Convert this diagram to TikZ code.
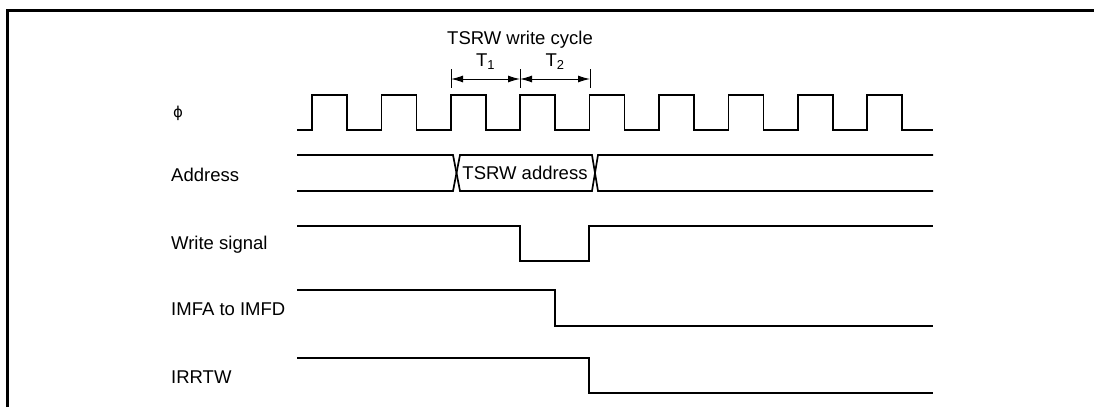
\documentclass[tikz,border=0pt]{standalone}
\usepackage{fontspec}
\setmainfont{Liberation Sans}
\newfontfamily\symfont{DejaVu Sans}
\usetikzlibrary{arrows.meta}

\begin{document}
\begin{tikzpicture}[x=1pt, y=-1pt, font=\fontsize{18.5}{21}\selectfont,
    sig/.style={line width=1.7pt, line join=miter},
    lbl/.style={anchor=west, inner sep=0pt},
    dimline/.style={{Latex[length=12pt,width=7pt]}-{Latex[length=12pt,width=7pt]}, line width=1pt}]
  \useasboundingbox (0,0) rectangle (1094,407);
  \draw[line width=3pt] (7,407) -- (7,10) -- (1094,10);

  \node[lbl] (phi) at (173,113) {\symfont\fontsize{15}{18}\selectfont\symbol{"03D5}};
  \node[lbl] (addr) at (171,175) {Address};
  \node[lbl] (wr) at (171,245) {Write signal};
  \node[lbl] (imf) at (171,309) {IMFA to IMFD};
  \node[lbl] (irr) at (171,377) {IRRTW};

  % clock
  \draw[sig] (297,130) \foreach \i in {0,...,8} {
      -- ({312+69.4*\i},130) -- ++(0,-35) -- ++(35,0) -- ++(0,35) } -- (933,130);

  % write cycle
  \coordinate (c0) at (451,79);
  \coordinate (c1) at (520,79);
  \coordinate (c2) at (590,79);
  \foreach \c in {c0,c1,c2}
    \draw[line width=1pt] (\c) ++(0,-10) -- ++(0,19);
  \draw[dimline] (c0) -- (c1) node[midway, above=6pt] (t1) {T\textsubscript{1}};
  \draw[dimline] (c1) -- (c2) node[midway, above=6pt] (t2) {T\textsubscript{2}};
  \node[inner sep=0pt] (cyc) at (520,40) {TSRW write cycle};

  % address
  \draw[sig] (297,155) -- (453,155) -- (460,191) -- (592,191) -- (598,155) -- (933,155);
  \draw[sig] (297,191) -- (453,191) -- (460,155) -- (592,155) -- (598,191) -- (933,191);
  \node[inner sep=0pt] (tsrw) at (525,173) {TSRW address};

  % write signal
  \draw[sig] (297,226) -- (520,226) -- (520,261) -- (589,261) -- (589,226) -- (933,226);

  % flags
  \draw[sig] (297,290) -- (555,290) -- (555,326) -- (933,326);
  \draw[sig] (297,358) -- (589,358) -- (589,393) -- (933,393);
\end{tikzpicture}
\end{document}
